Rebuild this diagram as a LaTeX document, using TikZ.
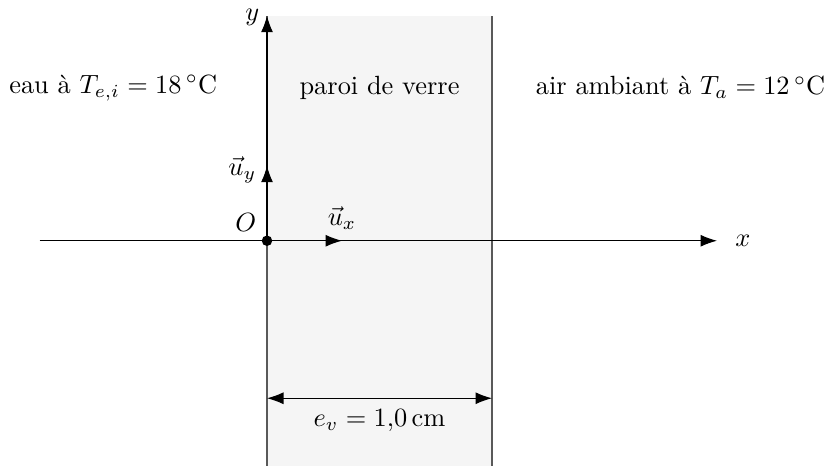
\documentclass[tikz,border=0pt]{standalone}
\usepackage{siunitx}
\sisetup{output-decimal-marker={,}}
\usetikzlibrary{arrows.meta,positioning}

\begin{document}
\begin{tikzpicture}[
    wall/.style={fill=black!4},
    wallline/.style={draw=black!65, thin},
    axis/.style={-{Latex[length=2.2mm,width=1.6mm]}, thin},
    unit/.style={-{Latex[length=2.2mm,width=1.6mm]}, thin},
    dim/.style={{Latex[length=2.2mm,width=1.6mm]}-{Latex[length=2.2mm,width=1.6mm]}, thin},
    lbl/.style={font=\normalsize}
]
\useasboundingbox (-3.56,-3.0) rectangle (7.48,3.21);

% Wall
\fill[wall] (0,-3) rectangle (3,3);
\coordinate (wlb) at (0,-3);
\coordinate (wlt) at (0,3);
\coordinate (wrb) at (3,-3);
\coordinate (wrt) at (3,3);
\draw[wallline] (wlb) -- (wlt);
\draw[wallline] (wrb) -- (wrt);

% Axes
\coordinate (O) at (0,0);
\coordinate (xstart) at (-3.03,0);
\coordinate (xend) at (6.0,0);
\coordinate (yend) at (0,3.0);
\draw[axis] (xstart) -- (xend);
\draw[axis] (O) -- (yend);
\node[right=0.12cm of xend] (xlbl) {$x$};
\node[anchor=east, xshift=0.02cm, yshift=-0.02cm] (ylbl) at (yend) {$y$};

% Unit vectors
\coordinate (ux) at (1,0);
\coordinate (uy) at (0,1);
\draw[unit] (O) -- (ux);
\draw[unit] (O) -- (uy);
\node[above=0.02cm of ux] (uxlbl) {$\vec{u}_x$};
\node[left=0.02cm of uy, yshift=-0.05cm] (uylbl) {$\vec{u}_y$};
\fill (O) circle (0.07);
\node[above left=0.0cm and 0.02cm of O] (Olbl) {$O$};

% Thickness
\coordinate (dl) at (0,-2.1);
\coordinate (dr) at (3,-2.1);
\draw[dim] (dl) -- (dr);
\node[below=0.02cm] (elbl) at (1.5,-2.1) {$e_v = \qty{1.0}{\centi\metre}$};

% Labels
\node[lbl, anchor=west] (eau) at (-3.56,2.04) {eau à $T_{e,i} = \qty{18}{\celsius}$};
\node[lbl] (verre) at (1.5,2.04) {paroi de verre};
\node[lbl, anchor=east, inner xsep=0pt] (air) at (7.45,2.04) {air ambiant à $T_a = \qty{12}{\celsius}$};

\end{tikzpicture}
\end{document}
